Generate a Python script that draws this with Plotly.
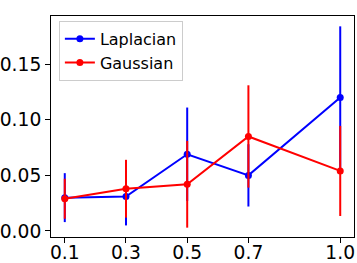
import plotly.graph_objects as go

x_vals = [0.1, 0.3, 0.5, 0.7, 1.0]
x_labels = ["0.1", "0.3", "0.5", "0.7", "1.0"]
lap_mean = [0.030, 0.031, 0.069, 0.050, 0.120]
lap_err = [0.022, 0.026, 0.042, 0.028, 0.064]
gau_mean = [0.029, 0.038, 0.042, 0.085, 0.054]
gau_err = [0.018, 0.026, 0.039, 0.046, 0.0405]
y_ticks = [0.0, 0.05, 0.10, 0.15]
y_labels = ["0.00", "0.05", "0.10", "0.15"]

fig = go.Figure()
for name, m, e, c in [("Laplacian", lap_mean, lap_err, "#0000ff"),
                      ("Gaussian", gau_mean, gau_err, "#ff0000")]:
    fig.add_trace(go.Scatter(
        x=x_vals, y=m, name=name, mode="lines+markers",
        line=dict(color=c, width=2),
        marker=dict(color=c, size=7),
        error_y=dict(type="data", array=e, visible=True, color=c, thickness=2, width=0),
    ))

fig.update_layout(
    width=357, height=263,
    margin=dict(l=51, r=3, t=16, b=26, autoexpand=False),
    plot_bgcolor="white", paper_bgcolor="white",
    font=dict(family="DejaVu Sans", color="black", size=18.7),
    showlegend=True,
    legend=dict(x=0.026, y=0.978, xanchor="left", yanchor="top",
                bgcolor="rgba(255,255,255,0.8)", bordercolor="#cccccc", borderwidth=1,
                font=dict(size=16), tracegroupgap=0, itemwidth=30),
)
fig.update_xaxes(range=[0.055, 1.045], tickvals=x_vals, ticktext=x_labels,
                 showline=True, linecolor="black", linewidth=1, mirror=True,
                 ticks="outside", ticklen=5, tickcolor="black", showgrid=False, zeroline=False,
                 tickfont=dict(size=18.7), ticklabelstandoff=-6)
fig.update_yaxes(range=[-0.0054, 0.1933], tickvals=y_ticks, ticktext=y_labels,
                 showline=True, linecolor="black", linewidth=1, mirror=True,
                 ticks="outside", ticklen=5, tickcolor="black", showgrid=False, zeroline=False,
                 tickfont=dict(size=18.7))

fig.write_html("out.html", config={"displayModeBar": False},
               post_script="document.body.style.margin='0';document.body.style.overflow='hidden';")
